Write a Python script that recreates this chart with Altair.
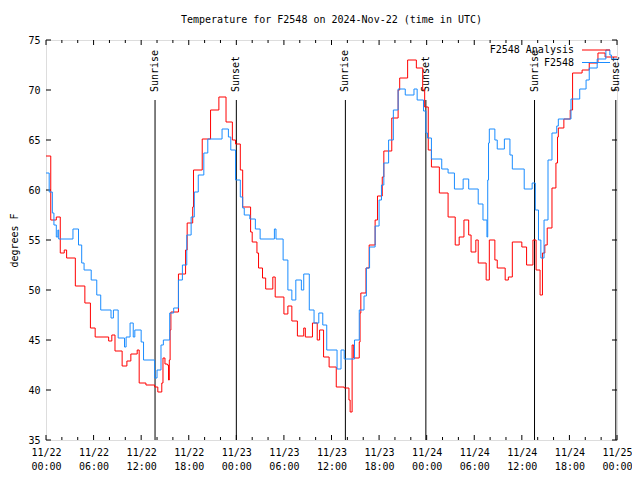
import altair as alt
import pandas as pd

# ---- data (hours since 2024-11-22 00:00 UTC, degrees F) ----
red_h = [0, 0.6, 1.3, 1.8, 2.3, 2.6, 3.7, 4.9, 5.6, 6.2, 7.9, 8.3, 8.7, 9.6, 10.2, 10.7, 11.5, 11.75,
         12.6, 13.7, 14.1, 14.6, 14.75, 15.0, 15.3, 15.45, 15.55, 15.65, 15.75, 16.7, 17.6, 17.8, 18.5,
         18.6, 19.7, 20.75, 21.8, 22.7, 23.5, 23.9, 24.5, 24.8, 25.8, 26.0, 26.6, 26.8, 27.3, 27.7, 28.6,
         28.9, 30.0, 30.5, 31.0, 31.7, 32.5, 32.7, 33.6, 34.2, 34.5, 35.0, 35.7, 36.6, 37.6, 38.2, 38.35,
         38.6, 38.8, 39.5, 39.6, 39.7, 40.35, 40.75, 41.5, 41.8, 42.4, 42.6, 43.6, 44.4, 44.6, 45.6, 46.7,
         47.5, 47.75, 48.2, 48.6, 49.6, 50.7, 51.6, 52.1, 52.7, 53.3, 53.6, 54.2, 54.5, 55.5, 55.9, 56.6,
         56.9, 57.9, 58.3, 58.8, 60.0, 60.6, 61.4, 61.8, 62.3, 62.6, 62.9, 63.2, 63.8, 64.3, 64.5, 64.6,
         65.3, 66.1, 66.4, 67.6, 68.5, 69.6, 70.5, 72]
red_v = [63.4, 57.0, 57.3, 53.7, 54.0, 53.2, 50.4, 48.7, 46.2, 45.3, 44.9, 45.5, 43.9, 42.4, 42.9, 43.6,
         44.0, 40.7, 40.5, 40.3, 39.8, 40.7, 43.2, 42.6, 42.5, 41.0, 43.0, 46.0, 47.8, 51.6, 54.0, 56.7,
         58.3, 62.0, 65.1, 68.0, 69.3, 66.8, 65.0, 64.6, 62.0, 58.3, 55.8, 54.8, 53.7, 52.2, 51.2, 50.1,
         51.3, 49.3, 47.6, 48.4, 46.9, 45.4, 46.2, 45.3, 46.7, 45.0, 46.0, 43.3, 42.3, 40.3, 40.2, 39.0,
         37.8, 44.5, 43.2, 44.8, 47.7, 49.7, 52.2, 54.5, 57.0, 59.4, 61.3, 63.9, 67.2, 70.0, 71.2, 73.0,
         72.2, 70.0, 68.3, 64.0, 62.3, 59.7, 57.3, 54.5, 55.3, 57.0, 55.5, 53.8, 55.0, 52.7, 51.0, 55.0,
         53.0, 52.2, 51.0, 51.3, 54.8, 54.3, 52.5, 55.0, 52.0, 49.5, 53.7, 54.5, 56.2, 60.2, 62.7, 65.3,
         66.2, 67.1, 68.0, 71.7, 72.0, 72.7, 73.7, 73.3, 73.3]

blue_h = [0, 0.4, 0.8, 1.0, 1.3, 1.5, 1.6, 3.4, 4.1, 4.5, 4.8, 5.7, 6.4, 6.9, 8.2, 8.5, 9.1, 9.9, 10.1,
          10.6, 11.0, 11.2, 12.0, 12.3, 13.7, 14.0, 14.5, 14.8, 15.6, 16.1, 16.7, 17.2, 17.75, 18.3, 18.7,
          19.2, 19.9, 20.4, 22.2, 23.0, 23.3, 23.9, 24.5, 24.8, 25.0, 25.7, 26.4, 27.0, 28.8, 29.0, 29.9,
          30.5, 31.0, 31.5, 32.2, 32.5, 33.2, 33.8, 34.4, 34.9, 35.4, 36.7, 37.2, 37.6, 38.9, 39.5, 40.1,
          40.4, 40.8, 41.5, 42.0, 42.3, 42.6, 43.2, 43.8, 44.4, 45.3, 46.4, 46.8, 47.6, 47.9, 48.1, 48.6,
          49.9, 50.7, 51.5, 52.6, 53.3, 54.5, 55.1, 55.6, 55.7, 55.8, 55.9, 56.6, 56.9, 57.8, 58.5, 58.8,
          60.3, 61.3, 61.7, 62.1, 62.4, 62.8, 63.3, 63.8, 64.4, 64.6, 66.2, 67.3, 68.1, 68.5, 69.5, 70.6,
          71.1, 71.3, 72]
blue_v = [61.7, 59.8, 57.7, 56.5, 55.3, 56.0, 55.1, 56.1, 54.5, 52.7, 52.0, 51.0, 49.5, 48.0, 47.2, 48.0,
          45.2, 44.3, 45.3, 46.7, 45.3, 46.0, 44.8, 43.0, 41.2, 42.0, 44.5, 45.0, 47.7, 48.2, 51.0, 52.5,
          55.5, 57.3, 59.8, 61.5, 63.7, 65.1, 66.1, 65.3, 64.0, 61.0, 59.3, 58.2, 57.5, 57.1, 56.1, 55.1,
          56.1, 55.1, 53.0, 50.0, 49.0, 51.0, 50.0, 51.6, 48.0, 46.7, 47.7, 46.5, 44.0, 42.1, 44.0, 43.1,
          45.0, 48.0, 49.4, 52.2, 54.3, 56.4, 59.0, 60.5, 62.7, 65.0, 68.0, 70.1, 69.5, 70.1, 69.0, 67.9,
          65.7, 65.2, 63.1, 62.1, 61.7, 60.1, 61.1, 60.1, 58.6, 57.0, 55.3, 61.0, 64.7, 66.1, 65.0, 64.1,
          65.1, 63.5, 62.1, 60.1, 60.7, 58.0, 55.0, 53.2, 57.0, 63.0, 65.7, 66.4, 67.1, 69.1, 70.1, 71.0,
          72.2, 73.1, 74.0, 73.5, 73.1, 73.1]

event_h = [13.75, 24.0, 37.75, 47.9, 61.6, 71.85]
event_lab = ["Sunrise", "Sunset", "Sunrise", "Sunset", "Sunrise", "Sunset"]

x_major = list(range(0, 73, 6))
x_minor = [h for h in range(0, 73, 2) if h % 6]
y_major = list(range(35, 76, 5))

series_names = ["F2548 Analysis", "F2548"]
series_colors = ["#ff0000", "#1a8cff"]

FONT = "DejaVu Sans Mono"
W, H = 571, 400

df_red = pd.DataFrame({"h": red_h, "v": red_v, "s": series_names[0]})
df_blue = pd.DataFrame({"h": blue_h, "v": blue_v, "s": series_names[1]})
df_ev = pd.DataFrame({"h": event_h, "lab": event_lab})
df_xmaj = pd.DataFrame({"h": x_major})
df_xmin = pd.DataFrame({"h": x_minor})
df_ymaj = pd.DataFrame({"v": y_major})

xscale = alt.Scale(domain=[0, 72], nice=False, zero=False)
yscale = alt.Scale(domain=[35, 75], nice=False, zero=False)

x_axis = alt.Axis(values=x_major, ticks=False, grid=False, domain=False,
                  labelExpr="['11/' + (22 + floor(datum.value / 24)), format(datum.value % 24, '02d') + ':00']",
                  labelFont=FONT, labelFontSize=10, labelColor="black", labelPadding=7,
                  labelLineHeight=14, labelOverlap=False, labelFlush=False, title=None)
y_axis = alt.Axis(values=y_major, ticks=False, grid=False, domain=False,
                  labelFont=FONT, labelFontSize=10, labelColor="black", labelPadding=6,
                  title="degrees F", titleFont=FONT, titleFontSize=10, titleFontWeight="normal",
                  titleColor="black", titlePadding=8)

X = alt.X("h:Q", scale=xscale, axis=x_axis)
Y = alt.Y("v:Q", scale=yscale, axis=y_axis)

color = alt.Color("s:N", scale=alt.Scale(domain=series_names, range=series_colors), legend=None)

red_line = alt.Chart(df_red).mark_line(interpolate="step-after", strokeWidth=1).encode(x=X, y=Y, color=color)
blue_line = alt.Chart(df_blue).mark_line(interpolate="step-after", strokeWidth=1).encode(x=X, y=Y, color=color)

ev_rules = alt.Chart(df_ev).mark_rule(color="black", strokeWidth=1).encode(
    x=X, y=alt.Y(datum=69, scale=yscale, axis=y_axis), y2=alt.Y2(datum=35))
ev_text = alt.Chart(df_ev).mark_text(angle=270, align="left", baseline="middle", font=FONT,
                                     fontSize=10, color="black").encode(
    x=X, y=alt.Y(datum=69.8, scale=yscale, axis=y_axis), text="lab:N")

tick_b_maj = alt.Chart(df_xmaj).mark_rule(color="black").encode(x=X, y=alt.value(H), y2=alt.value(H - 5))
tick_t_maj = alt.Chart(df_xmaj).mark_rule(color="black").encode(x=X, y=alt.value(0), y2=alt.value(5))
tick_b_min = alt.Chart(df_xmin).mark_rule(color="black").encode(x=X, y=alt.value(H), y2=alt.value(H - 3))
tick_t_min = alt.Chart(df_xmin).mark_rule(color="black").encode(x=X, y=alt.value(0), y2=alt.value(3))
tick_l = alt.Chart(df_ymaj).mark_rule(color="black").encode(y=Y, x=alt.value(0), x2=alt.value(5))
tick_r = alt.Chart(df_ymaj).mark_rule(color="black").encode(y=Y, x=alt.value(W), x2=alt.value(W - 5))

# legend (gnuplot style: label on the left, line sample on the right), inside top-right
legend_layers = []
for i, (name, col) in enumerate(zip(series_names, series_colors)):
    row_y = 10 + i * 12.5
    src = pd.DataFrame({"s": [name]})
    legend_layers.append(
        alt.Chart(src).mark_text(align="right", baseline="middle", font=FONT, fontSize=10,
                                 color="black").encode(text="s:N", x=alt.value(528), y=alt.value(row_y)))
    legend_layers.append(
        alt.Chart(src).mark_rule(color=col, strokeWidth=1).encode(
            x=alt.value(536), x2=alt.value(564), y=alt.value(row_y)))

chart = alt.layer(
    tick_b_maj, tick_t_maj, tick_b_min, tick_t_min, tick_l, tick_r,
    ev_rules, ev_text, red_line, blue_line, *legend_layers
).properties(
    width=W, height=H,
    title=alt.TitleParams("Temperature for F2548 on 2024-Nov-22 (time in UTC)", font=FONT, fontSize=10,
                          fontWeight="normal", color="black", anchor="middle", offset=10),
    autosize=alt.AutoSizeParams(type="none"),
    padding={"left": 38, "top": 32, "right": 15, "bottom": 40},
).configure_view(
    stroke="black", strokeWidth=1
).configure(background="white")

chart.save("out.html", embed_options={"renderer": "svg", "actions": False})
